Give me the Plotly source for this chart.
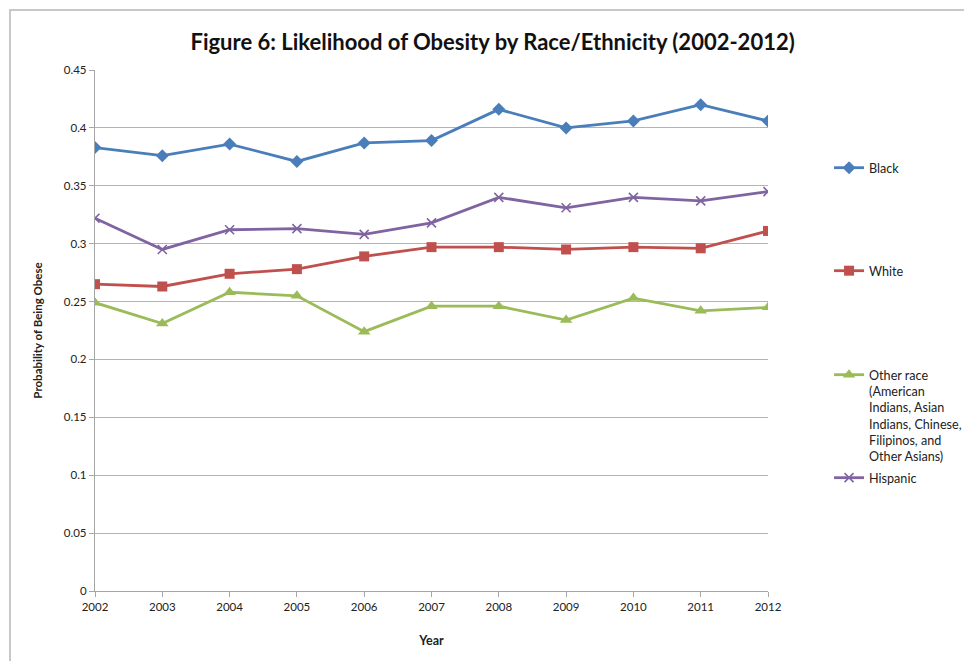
import plotly.graph_objects as go

years = [2002, 2003, 2004, 2005, 2006, 2007, 2008, 2009, 2010, 2011, 2012]
black = [0.383, 0.376, 0.386, 0.371, 0.387, 0.389, 0.416, 0.400, 0.406, 0.420, 0.406]
white = [0.265, 0.263, 0.274, 0.278, 0.289, 0.297, 0.297, 0.295, 0.297, 0.296, 0.311]
other = [0.249, 0.231, 0.258, 0.255, 0.224, 0.246, 0.246, 0.234, 0.253, 0.242, 0.245]
hispanic = [0.322, 0.295, 0.312, 0.313, 0.308, 0.318, 0.340, 0.331, 0.340, 0.337, 0.345]

y_ticks = [0, 0.05, 0.1, 0.15, 0.2, 0.25, 0.3, 0.35, 0.4, 0.45]
y_labels = ["0", "0.05", "0.1", "0.15", "0.2", "0.25", "0.3", "0.35", "0.4", "0.45"]

FONT = "Lato"
TXT = "#222222"

series = [
    ("Black", black, "#4a7ebb", dict(symbol="diamond", size=10), "legend"),
    ("White", white, "#c0504d", dict(symbol="square", size=10), "legend2"),
    ("Other race<br>(American<br>Indians, Asian<br>Indians, Chinese,<br>Filipinos, and<br>Other Asians)",
     other, "#9bbb59", dict(symbol="triangle-up", size=11), "legend3"),
    ("Hispanic", hispanic, "#8064a2", dict(symbol="x-thin", size=9,
                                         line=dict(width=1.6, color="#8064a2")), "legend4"),
]

fig = go.Figure()
for name, vals, color, mk, lg in series:
    fig.add_trace(go.Scatter(
        x=years, y=vals, name=name, mode="lines+markers",
        line=dict(color=color, width=2.8),
        marker=dict(color=color, **mk),
        legend=lg, showlegend=True,
    ))

leg_common = dict(
    xref="container", yref="container",
    xanchor="left", x=0.860, bgcolor="rgba(0,0,0,0)", borderwidth=0,
    font=dict(family=FONT, size=12.6, color=TXT), itemwidth=30,
    tracegroupgap=0,
)

# outer chart frame
fig.add_shape(type="rect", xref="paper", yref="paper",
              x0=-0.1263, y0=-1.0, x1=1.5, y1=1.1152,
              line=dict(color="#c8c8c8", width=2), fillcolor="rgba(0,0,0,0)", layer="below")

fig.update_layout(
    width=964, height=661,
    margin=dict(l=95, r=196, t=70, b=70, autoexpand=False),
    showlegend=True,
    paper_bgcolor="white", plot_bgcolor="white",
    title=dict(text="<b>Figure 6: Likelihood of Obesity by Race/Ethnicity (2002-2012)</b>",
               x=0.511, xref="container", xanchor="center",
               y=1 - 42 / 661, yref="container", yanchor="middle",
               font=dict(family=FONT, size=22, color="#111111")),
    font=dict(family=FONT, color=TXT),
    legend=dict(**leg_common, y=1 - 168 / 661, yanchor="middle"),
    legend2=dict(**leg_common, y=1 - 271 / 661, yanchor="middle"),
    legend3=dict(**leg_common, y=1 - 360 / 661, yanchor="top", valign="top"),
    legend4=dict(**leg_common, y=1 - 478 / 661, yanchor="middle"),
    xaxis=dict(
        tickmode="array", tickvals=years, ticktext=[str(y) for y in years],
        range=[2002, 2012], showgrid=False, zeroline=False,
        showline=True, linecolor="#a6a6a6", linewidth=1.3,
        ticks="outside", ticklen=5, tickcolor="#a6a6a6",
        tickfont=dict(family=FONT, size=11.5, color=TXT),
        title=dict(text="<b>Year</b>", font=dict(family=FONT, size=12.5, color=TXT), standoff=24),
    ),
    yaxis=dict(
        tickmode="array", tickvals=y_ticks, ticktext=y_labels,
        range=[0, 0.45], showgrid=True, gridcolor="#b3b3b3", gridwidth=1.3,
        zeroline=False, showline=True, linecolor="#a6a6a6", linewidth=1.3,
        ticks="outside", ticklen=5, tickcolor="#a6a6a6",
        tickfont=dict(family=FONT, size=11.5, color=TXT),
        title=dict(text="<b>Probability of Being Obese</b>",
                   font=dict(family=FONT, size=11.5, color=TXT), standoff=18),
    ),
)

fig.write_html("out.html")
